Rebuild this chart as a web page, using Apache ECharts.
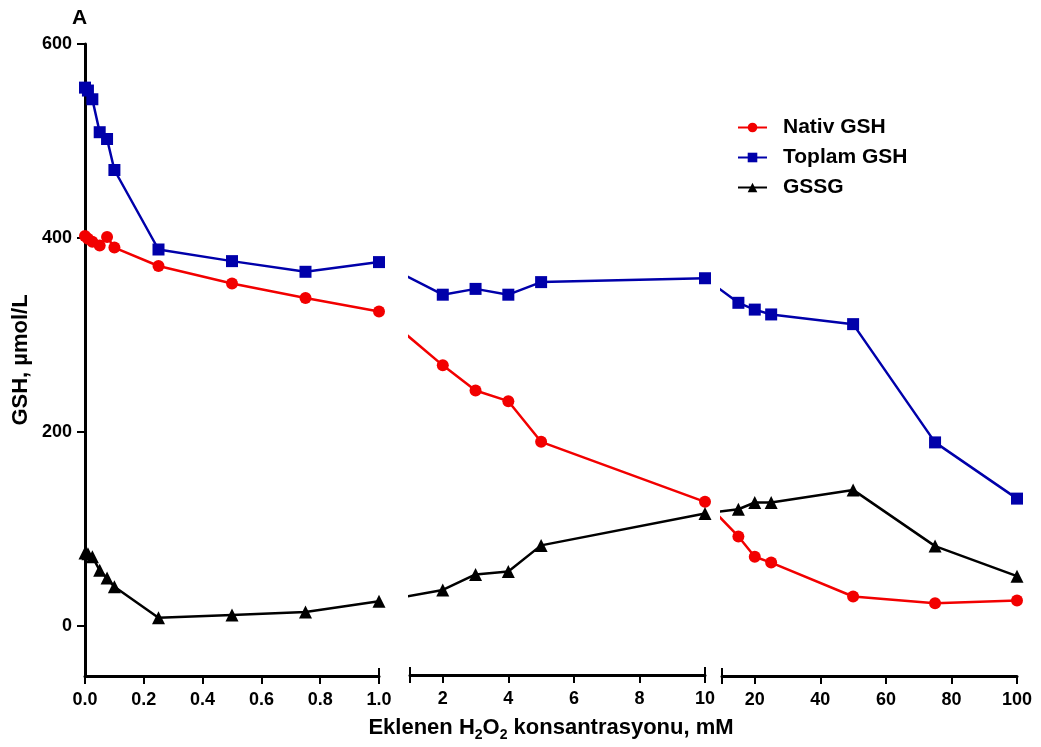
<!DOCTYPE html>
<html>
<head>
<meta charset="utf-8">
<script src="https://cdn.jsdelivr.net/npm/echarts@6/dist/echarts.min.js"></script>
<style>
  html, body { margin: 0; padding: 0; background: #ffffff; }
  #chart { width: 1041px; height: 747px; }
</style>
</head>
<body>
<div id="chart"></div>
<script>
// Added H2O2 concentration (mM), one array per piece of the broken x axis
const concLow  = [0, 0.01, 0.025, 0.05, 0.075, 0.1, 0.25, 0.5, 0.75, 1.0];
const concMid  = [2, 3, 4, 5, 10];
const concHigh = [15, 20, 25, 50, 75, 100];

// Native GSH, µmol/L
const nativLow  = [402, 399, 396, 392, 401, 390, 371, 353, 338, 324];
const nativMid  = [268, 242, 231, 189, 127];
const nativHigh = [92, 71, 65, 30, 23, 26];

// Total GSH, µmol/L
const toplamLow  = [555, 552, 543, 509, 502, 470, 388, 376, 365, 375];
const toplamMid  = [341, 347, 341, 354, 358];
const toplamHigh = [333, 326, 321, 311, 189, 131];

// GSSG, µmol/L
const gssgLow  = [75, 74, 71, 57, 49, 40, 8, 11, 14, 25];
const gssgMid  = [36, 52, 55, 82, 115];
const gssgHigh = [120, 127, 127, 140, 82, 51];

// Tick labels
const yTicks     = [0, 200, 400, 600];
const xTicksLow  = [0, 0.2, 0.4, 0.6, 0.8, 1.0];
const xTicksMid  = [2, 4, 6, 8, 10];
const xTicksHigh = [20, 40, 60, 80, 100];

const FONT = "'Liberation Sans', Arial, Helvetica, sans-serif";
const RED = '#f20000';
const BLUE = '#0000aa';
const BLACK = '#000000';

// Axis pieces: value range, tick positions, and where the break caps sit
const pieces = [
  { min: 0,  max: 1,   left: 85,  width: 294, ticks: xTicksLow,  caps: [1],      fmt: v => v.toFixed(1) },
  { min: 1,  max: 10,  left: 410, width: 295, ticks: xTicksMid,  caps: [1, 10],  fmt: v => String(v) },
  { min: 10, max: 100, left: 722, width: 295, ticks: xTicksHigh, caps: [10],     fmt: v => String(v) }
];

const groups = [
  { name: 'Nativ GSH',  color: RED,   symbol: 'circle',   size: 12, data: [nativLow, nativMid, nativHigh] },
  { name: 'Toplam GSH', color: BLUE,  symbol: 'rect',     size: 12, data: [toplamLow, toplamMid, toplamHigh] },
  { name: 'GSSG',       color: BLACK, symbol: 'triangle', size: 13, data: [gssgLow, gssgMid, gssgHigh] }
];
const concs = [concLow, concMid, concHigh];

const Y_MIN = -52, Y_MAX = 600;
const GRID_TOP = 44, GRID_HEIGHT = 632;

const grids = pieces.map(p => ({ left: p.left, top: GRID_TOP, width: p.width, height: GRID_HEIGHT }));

const mainXAxes = pieces.map((p, i) => {
  const ax = {
    type: 'value', gridIndex: i, min: p.min, max: p.max, position: 'bottom',
    axisLine: { show: true, onZero: false, lineStyle: { color: '#000', width: 3 } },
    axisTick: {
      show: true, length: 8, lineStyle: { color: '#000', width: 2 },
      customValues: Array.from(new Set([...p.caps, ...p.ticks])).sort((a, b) => a - b)
    },
    axisLabel: {
      show: true, customValues: p.ticks, formatter: p.fmt, margin: 15,
      color: '#000', fontFamily: FONT, fontWeight: 'bold', fontSize: 18
    },
    splitLine: { show: false }
  };
  if (i === 1) {
    // top padding on the digit tokens pushes them below the baseline
    ax.name = '{m|Eklenen H}{s|2}{m|O}{s|2}{m| konsantrasyonu, mM}';
    ax.nameLocation = 'middle';
    ax.nameGap = 37;
    ax.nameTextStyle = {
      color: '#000', fontFamily: FONT, fontWeight: 'bold', padding: [0, 13, 0, 0],
      rich: {
        m: { fontSize: 22, fontWeight: 'bold', fontFamily: FONT, color: '#000', lineHeight: 22 },
        s: { fontSize: 14, fontWeight: 'bold', fontFamily: FONT, color: '#000', lineHeight: 14, padding: [15, 0, 0, 0] }
      }
    };
  }
  return ax;
});

// Upward half of the caps at each side of an axis break
const capXAxes = pieces.map((p, i) => ({
  type: 'value', gridIndex: i, min: p.min, max: p.max, position: 'bottom',
  axisLine: { show: false, onZero: false },
  axisTick: { show: true, inside: true, length: 8, lineStyle: { color: '#000', width: 2 }, customValues: p.caps },
  axisLabel: { show: false },
  splitLine: { show: false }
}));

const yAxes = pieces.map((p, i) => i === 0 ? {
  type: 'value', gridIndex: 0, min: Y_MIN, max: Y_MAX, position: 'left',
  name: 'GSH, µmol/L', nameLocation: 'middle', nameGap: 53,
  nameTextStyle: { color: '#000', fontFamily: FONT, fontWeight: 'bold', fontSize: 22 },
  axisLine: { show: true, onZero: false, lineStyle: { color: '#000', width: 3 } },
  axisTick: { show: true, length: 8, lineStyle: { color: '#000', width: 2 }, customValues: yTicks },
  axisLabel: { show: true, customValues: yTicks, margin: 13, color: '#000', fontFamily: FONT, fontWeight: 'bold', fontSize: 18 },
  splitLine: { show: false }
} : {
  type: 'value', gridIndex: i, min: Y_MIN, max: Y_MAX, show: false, splitLine: { show: false }
});

function pairs(xs, ys) { return xs.map((x, k) => [x, ys[k]]); }

const series = [];
groups.forEach(g => {
  concs.forEach((xs, i) => {
    series.push({
      type: 'line', name: g.name, xAxisIndex: i, yAxisIndex: i,
      data: pairs(xs, g.data[i]),
      symbol: g.symbol, symbolSize: g.size, showSymbol: true,
      itemStyle: { color: g.color },
      lineStyle: { color: g.color, width: 2.5 },
      clip: true, animation: false, z: 3
    });
  });
});

const chart = echarts.init(document.getElementById('chart'), null, { renderer: 'canvas' });
chart.setOption({
  backgroundColor: '#ffffff',
  animation: false,
  grid: grids,
  xAxis: [...mainXAxes, ...capXAxes],
  yAxis: yAxes,
  legend: {
    orient: 'vertical', left: 732, top: 112,
    itemWidth: 29, itemHeight: 12, itemGap: 9,
    textStyle: { color: '#000', fontFamily: FONT, fontWeight: 'bold', fontSize: 21, padding: [0, 0, 0, 11] },
    data: groups.map(g => g.name)
  },
  graphic: [{
    type: 'text', left: 72, top: 8,
    style: { text: 'A', font: 'bold 21px ' + FONT, fill: '#000' }
  }],
  series: series
});

// Lines run straight across each break in screen space; the part inside the
// gap stays hidden because every piece clips to its own grid.
const bridged = series.map((s, idx) => {
  const piece = idx % 3;
  if (piece === 0) return { data: s.data };
  const prev = series[idx - 1].data;
  const last = prev[prev.length - 1];
  const px = chart.convertToPixel({ seriesIndex: idx - 1 }, last);
  const val = chart.convertFromPixel({ seriesIndex: idx }, px);
  return { data: [{ value: val, symbol: 'none', symbolSize: 0 }, ...s.data] };
});
chart.setOption({ series: bridged });
</script>
</body>
</html>
